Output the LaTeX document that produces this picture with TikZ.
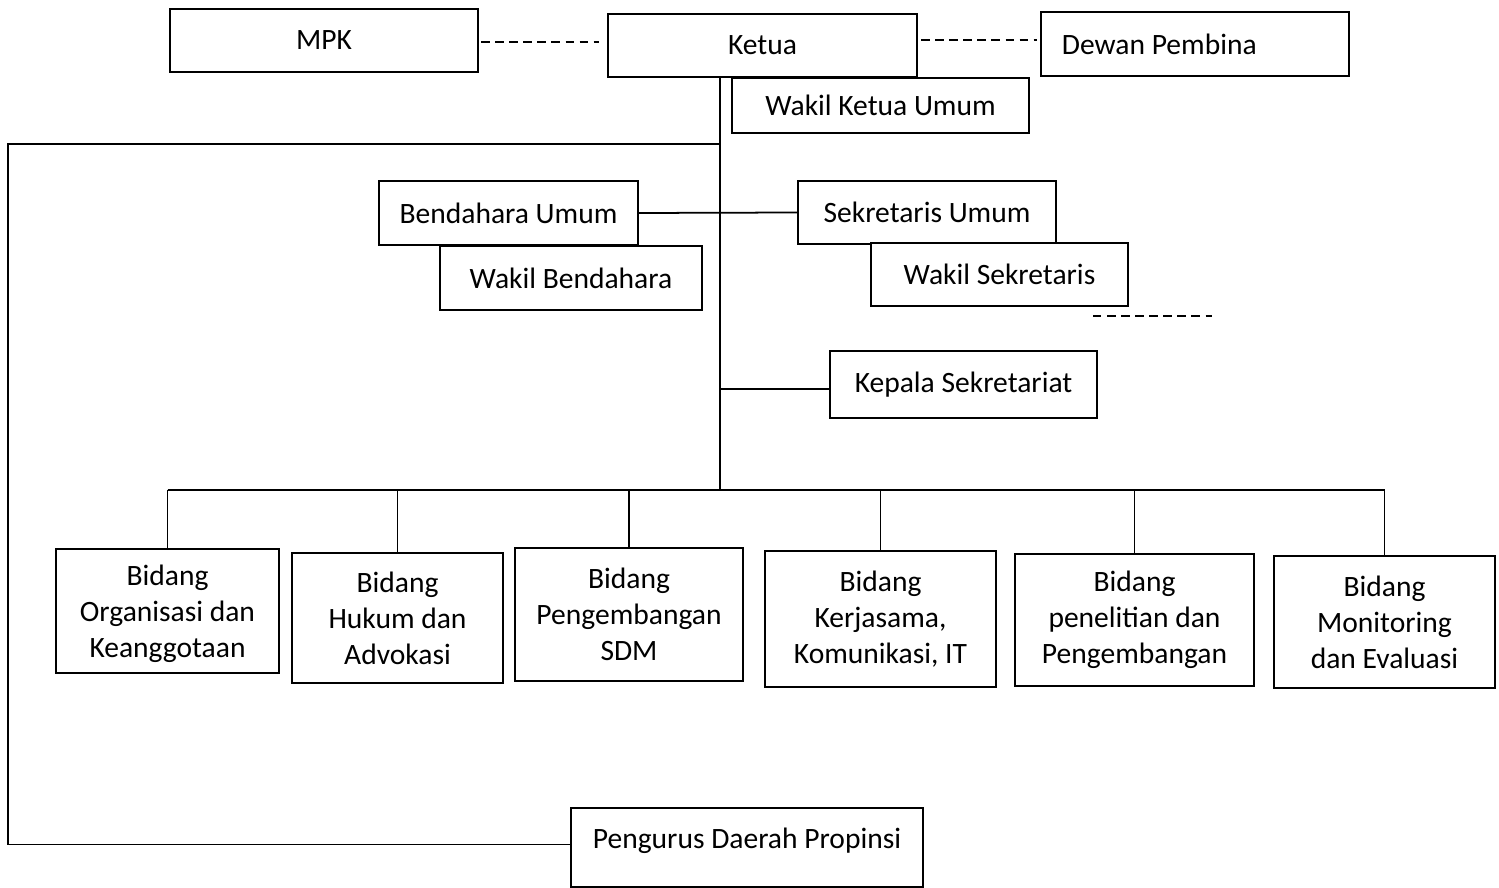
\documentclass[tikz,border=0pt]{standalone}
\usepackage{fontspec}
\setmainfont{Carlito}
\usetikzlibrary{positioning,calc}
\tikzset{
  org box/.style={draw=black,semithick,fill=white,align=center,inner sep=0pt,
    font=\fontsize{8.4}{10.2}\selectfont},
  org line/.style={line width=.5pt,draw=black},
  org dash/.style={org line,dash pattern=on 2.4pt off 1.6pt}
}
\begin{document}
\begin{tikzpicture}[x=0.01cm,y=-0.01cm]
  \useasboundingbox (0,0) rectangle (1499,888);
  \node[org box,minimum width=3.08cm,minimum height=.63cm] (mpk) at (324,40.5) {MPK};
  \node[org box,minimum width=3.09cm,minimum height=.63cm] (ketua) at (762.5,45.5) {Ketua};
  \node[org box,align=flush left,text width=2.66cm,inner xsep=.21cm,minimum height=.64cm] (dewan) at (1195,44) {Dewan Pembina};
  \node[org box,minimum width=2.97cm,minimum height=.55cm] (wku) at (880.5,105.5) {Wakil Ketua Umum};
  \node[org box,minimum width=2.59cm,minimum height=.64cm] (bu) at (508.5,213) {Bendahara Umum};
  \node[org box,minimum width=2.62cm,minimum height=.64cm] (wb) at (571,278) {Wakil Bendahara};
  \node[org box,minimum width=2.58cm,minimum height=.63cm] (su) at (927,212.5) {Sekretaris Umum};
  \node[org box,minimum width=2.57cm,minimum height=.63cm] (ws) at (999.5,274.5) {Wakil Sekretaris};
  \node[org box,minimum width=2.67cm,minimum height=.67cm] (ks) at (963.5,384.5) {Kepala Sekretariat};
  \node[org box,minimum width=2.23cm,minimum height=1.24cm,text depth=0pt] (bid1) at (167.5,611) {Bidang\\Organisasi dan\\Keanggotaan};
  \node[org box,minimum width=2.11cm,minimum height=1.30cm] (bid2) at (397.5,618) {Bidang\\Hukum dan\\Advokasi};
  \node[org box,minimum width=2.28cm,minimum height=1.33cm] (bid3) at (629,614.5) {Bidang\\Pengembangan\\SDM};
  \node[org box,minimum width=2.31cm,minimum height=1.36cm] (bid4) at (880.5,619) {Bidang\\Kerjasama,\\Komunikasi, IT};
  \node[org box,minimum width=2.39cm,minimum height=1.32cm] (bid5) at (1134.5,620) {Bidang\\penelitian dan\\Pengembangan};
  \node[org box,minimum width=2.21cm,minimum height=1.32cm] (bid6) at (1384.5,622) {Bidang\\Monitoring\\dan Evaluasi};
  \node[org box,minimum width=3.52cm,minimum height=.79cm,text height=5.5pt,text depth=4.7pt] (pdp) at (747,847.5) {Pengurus Daerah Propinsi};
  \coordinate (split) at (720,490);
  \coordinate (left) at (8,144);
  \coordinate (dashA) at (1093,316);
  \coordinate (dashB) at (1212,316);
  \draw[org dash] ([shift={(.02cm,-.015cm)}]mpk.east) -- ([shift={(-.08cm,-.015cm)}]mpk.east -| ketua.west);
  \draw[org dash] ([shift={(.03cm,.04cm)}]dewan.west -| ketua.east) -- ([shift={(-.03cm,.04cm)}]dewan.west);
  \draw[org dash] (dashA) -- (dashB);
  \draw[org line] (ketua.south -| split) -- (split);
  \draw[org line] (left -| split) -- (left) |- ([yshift=.03cm]pdp.west);
  \draw[org line] (bu.east) -- (su.west);
  \draw[org line] ([yshift=-.045cm]split |- ks.west) -- ([yshift=-.045cm]ks.west);
  \draw[org line] (bid1.north |- split) -- (bid6.north |- split);
  \foreach \i in {1,...,6}
    \draw[org line] (bid\i.north |- split) -- (bid\i.north);
\end{tikzpicture}
\end{document}
